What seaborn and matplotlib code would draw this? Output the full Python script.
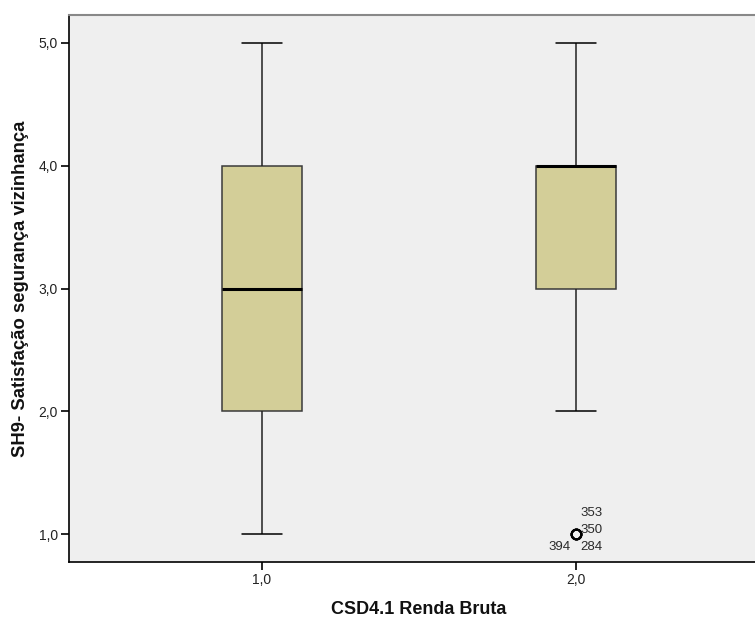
import numpy as np
import pandas as pd
import seaborn as sns
import matplotlib
matplotlib.use("Agg")
import matplotlib.pyplot as plt

# Satisfaction levels and response counts per income group
levels = [1.0, 2.0, 3.0, 4.0, 5.0]
group_labels = ["1,0", "2,0"]
counts_g1 = [2, 4, 5, 4, 2]
counts_g2 = [4, 1, 6, 12, 2]

# Case ids of the outlying responses in group 2 (all at value 1)
outlier_ids = ["353", "350", "394", "284"]
outlier_value = 1.0

y_ticks = [1.0, 2.0, 3.0, 4.0, 5.0]
y_tick_labels = ["1,0", "2,0", "3,0", "4,0", "5,0"]

rows = []
for g, counts in zip(group_labels, [counts_g1, counts_g2]):
    for lv, c in zip(levels, counts):
        rows += [(g, lv)] * c
df = pd.DataFrame(rows, columns=["renda", "sh9"])

sns.set_theme(style="white")
plt.rcParams["font.family"] = ["Liberation Sans", "DejaVu Sans"]

fig = plt.figure(figsize=(7.55, 6.19), dpi=100)
ax = fig.add_axes([69 / 755, 1 - 562 / 619, (769 - 69) / 755, (562 - 15) / 619])
ax.set_facecolor("#efefef")

sns.boxplot(
    data=df, x="renda", y="sh9", order=group_labels, ax=ax,
    width=0.252, color="#d3ce98", saturation=1, whis=1.5,
    linewidth=1.1, linecolor="#2a2a2a",
    medianprops=dict(color="black", linewidth=2.2),
    capprops=dict(color="black", linewidth=1.1),
    whiskerprops=dict(color="#222222", linewidth=1.1),
    flierprops=dict(marker="o", markersize=7, markerfacecolor="none",
                    markeredgecolor="black", markeredgewidth=1.5),
    boxprops=dict(edgecolor="#3a3a3a"),
)

# Half-width whisker caps (medians keep the full box width)
for line in ax.lines:
    xd = np.asarray(line.get_xdata(), dtype=float)
    yd = np.asarray(line.get_ydata(), dtype=float)
    if (len(xd) == 2 and yd[0] == yd[1] and abs(xd[1] - xd[0]) > 0.2
            and line.get_linewidth() < 2):
        c = (xd[0] + xd[1]) / 2
        line.set_xdata([c - 0.063, c + 0.063])

# Outlier case labels
ox = group_labels.index("2,0")
fs = 9.5
tc = "#2a2a2a"
ax.annotate(outlier_ids[0], (ox, outlier_value), xytext=(3, 15.5), textcoords="offset points",
            fontsize=fs, ha="left", va="center", color=tc)
ax.annotate(outlier_ids[1], (ox, outlier_value), xytext=(3, 3), textcoords="offset points",
            fontsize=fs, ha="left", va="center", color=tc)
ax.annotate(outlier_ids[2], (ox, outlier_value), xytext=(-3.6, -9.4), textcoords="offset points",
            fontsize=fs, ha="right", va="center", color=tc)
ax.annotate(outlier_ids[3], (ox, outlier_value), xytext=(3, -9.4), textcoords="offset points",
            fontsize=fs, ha="left", va="center", color=tc)

ax.set_xlim(-0.615, 1.615)
ax.set_ylim(1 - 28 / 123, 5 + 28 / 123)
ax.set_yticks(y_ticks)
ax.set_yticklabels(y_tick_labels)
ax.tick_params(axis="both", which="both", length=6, width=1.2, color="black",
               labelsize=10, labelcolor="#222222", left=True, bottom=True, pad=2)

for side in ["left", "bottom"]:
    ax.spines[side].set_color("black")
    ax.spines[side].set_linewidth(1.2)
ax.spines["top"].set_color("#888888")
ax.spines["top"].set_linewidth(1.5)
ax.spines["right"].set_visible(False)

ax.set_xlabel("CSD4.1 Renda Bruta", fontsize=13, fontweight="bold", labelpad=10, color="#111111")
ax.set_ylabel("SH9- Satisfação segurança vizinhança", fontsize=13.3, fontweight="bold",
              labelpad=7, color="#111111")

fig.savefig("out.png", dpi=100, facecolor="white")
